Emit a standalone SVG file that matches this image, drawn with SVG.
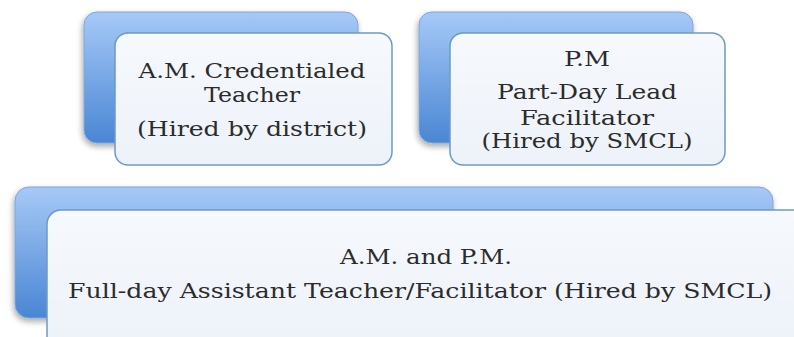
<svg xmlns="http://www.w3.org/2000/svg" width="794" height="337" viewBox="0 0 794 337">
  <defs>
    <linearGradient id="backFill" x1="0" y1="0" x2="0" y2="1">
      <stop offset="0" stop-color="#a6c9f7"/>
      <stop offset="1" stop-color="#4a86d3"/>
    </linearGradient>
    <linearGradient id="frontFill" x1="0" y1="0" x2="0" y2="1">
      <stop offset="0" stop-color="#f6f9fd"/>
      <stop offset="1" stop-color="#edf2f9"/>
    </linearGradient>
    <filter id="shadow" x="-10%" y="-10%" width="120%" height="130%">
      <feGaussianBlur in="SourceAlpha" stdDeviation="3"/>
      <feOffset dx="-1" dy="3"/>
      <feComponentTransfer><feFuncA type="linear" slope="0.35"/></feComponentTransfer>
      <feMerge><feMergeNode/><feMergeNode in="SourceGraphic"/></feMerge>
    </filter>
  </defs>
  <style>
    .back { fill: url(#backFill); stroke: #7fa6d8; stroke-width: 1; filter: url(#shadow); }
    .front { fill: url(#frontFill); stroke: #6f98c9; stroke-width: 1.5; }
    .label { font-family: "DejaVu Serif", "Liberation Serif", serif; font-size: 20px; fill: #2b2b2b; text-anchor: middle; }
  </style>

  <rect width="794" height="337" fill="#ffffff"/>

  <!-- A.M. teacher -->
  <g id="am-teacher">
    <rect class="back" x="84" y="12" width="274" height="131" rx="13"/>
    <rect class="front" x="115" y="33" width="277" height="132" rx="13"/>
    <text class="label" x="252" y="78" textLength="227" lengthAdjust="spacingAndGlyphs">A.M. Credentialed</text>
    <text class="label" x="252" y="102" textLength="96" lengthAdjust="spacingAndGlyphs">Teacher</text>
    <text class="label" x="252" y="136" textLength="230" lengthAdjust="spacingAndGlyphs">(Hired by district)</text>
  </g>

  <!-- P.M. facilitator -->
  <g id="pm-facilitator">
    <rect class="back" x="419" y="12" width="274" height="131" rx="13"/>
    <rect class="front" x="450" y="33" width="275" height="132" rx="13"/>
    <text class="label" x="587" y="66" textLength="46" lengthAdjust="spacingAndGlyphs">P.M</text>
    <text class="label" x="587" y="99" textLength="180" lengthAdjust="spacingAndGlyphs">Part-Day Lead</text>
    <text class="label" x="587" y="125" textLength="134" lengthAdjust="spacingAndGlyphs">Facilitator</text>
    <text class="label" x="587" y="148" textLength="211" lengthAdjust="spacingAndGlyphs">(Hired by SMCL)</text>
  </g>

  <!-- Full-day assistant -->
  <g id="full-day-assistant">
    <rect class="back" x="15" y="187" width="758" height="131" rx="14"/>
    <rect class="front" x="47" y="210" width="760" height="140" rx="14"/>
    <text class="label" x="426" y="264" textLength="172" lengthAdjust="spacingAndGlyphs">A.M. and P.M.</text>
    <text class="label" x="420" y="298" textLength="704" lengthAdjust="spacingAndGlyphs">Full-day Assistant Teacher/Facilitator (Hired by SMCL)</text>
  </g>

  <g id="connectors"/>
</svg>
